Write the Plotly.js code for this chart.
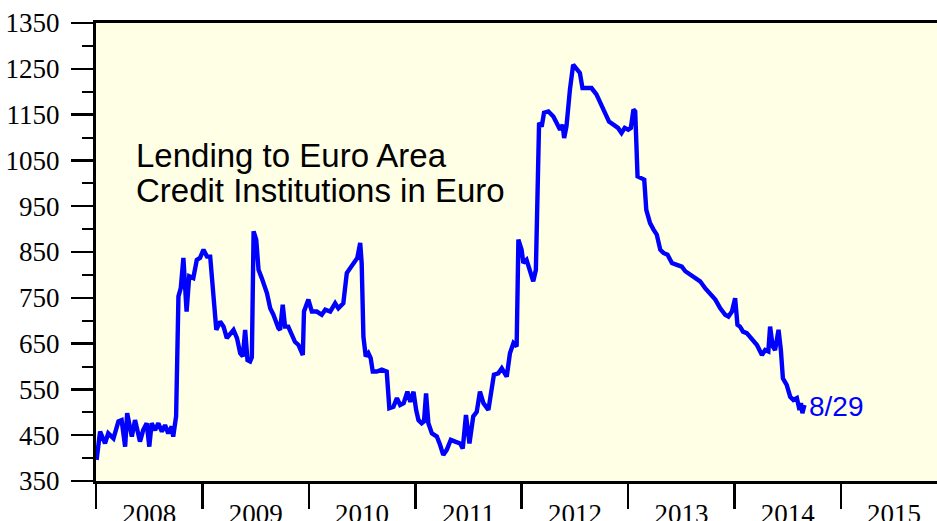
<!DOCTYPE html>
<html>
<head>
<meta charset="utf-8">
<script src="https://cdn.plot.ly/plotly-3.0.1.min.js"></script>
<style>
html,body{margin:0;padding:0;overflow:hidden;background:#fff;}
#chart{width:937px;height:521px;}
</style>
</head>
<body>
<div id="chart"></div>
<script>
const dates = [
'2008-01-03','2008-01-15','2008-02-01','2008-02-12','2008-03-01','2008-03-18','2008-03-29','2008-04-10','2008-04-17','2008-05-03',
'2008-05-14','2008-05-31','2008-06-11','2008-06-23','2008-07-02','2008-07-10','2008-07-22','2008-08-02','2008-08-14','2008-08-25',
'2008-09-05','2008-09-17','2008-09-22','2008-10-02','2008-10-10','2008-10-18','2008-10-27','2008-11-07','2008-11-16','2008-11-30',
'2008-12-12','2008-12-23','2009-01-04','2009-01-16','2009-01-27','2009-02-07','2009-02-17','2009-03-02','2009-03-14','2009-03-25',
'2009-04-06','2009-04-17','2009-04-29','2009-05-10','2009-05-19','2009-05-27','2009-06-04','2009-06-13','2009-06-19','2009-06-25',
'2009-07-04','2009-07-12','2009-07-23','2009-08-10','2009-08-21','2009-09-01','2009-09-18','2009-09-24','2009-10-03','2009-10-11',
'2009-10-22','2009-11-03','2009-11-14','2009-11-26','2009-12-07','2009-12-11','2009-12-15','2009-12-30','2010-01-11','2010-01-28',
'2010-02-14','2010-02-26','2010-03-15','2010-04-01','2010-04-12','2010-04-29','2010-05-11','2010-05-28','2010-06-09','2010-06-16',
'2010-06-26','2010-07-01','2010-07-07','2010-07-15','2010-07-24','2010-08-01','2010-08-08','2010-08-22','2010-09-08','2010-09-25',
'2010-10-04','2010-10-18','2010-10-30','2010-11-10','2010-11-22','2010-12-05','2010-12-15','2010-12-26','2011-01-04','2011-01-12',
'2011-01-23','2011-01-31','2011-02-07','2011-02-15','2011-02-27','2011-03-16','2011-03-27','2011-04-07','2011-04-19','2011-05-03',
'2011-05-18','2011-06-04','2011-06-13','2011-06-24','2011-07-06','2011-07-19','2011-07-31','2011-08-11','2011-08-23','2011-09-09',
'2011-09-28','2011-10-13','2011-10-25','2011-11-11','2011-11-22','2011-12-04','2011-12-15','2011-12-21','2012-01-01','2012-01-07',
'2012-01-18','2012-01-30','2012-02-10','2012-02-19','2012-03-01','2012-03-10','2012-03-18','2012-04-02','2012-04-19','2012-04-30',
'2012-05-12','2012-05-21','2012-05-26','2012-06-03','2012-06-09','2012-06-15','2012-06-26','2012-07-08','2012-07-19','2012-07-28',
'2012-08-11','2012-08-28','2012-09-14','2012-10-01','2012-10-16','2012-10-27','2012-11-10','2012-11-27','2012-12-09','2012-12-20',
'2013-01-01','2013-01-10','2013-01-19','2013-01-25','2013-02-02','2013-02-17','2013-02-25','2013-03-04','2013-03-17','2013-03-29',
'2013-04-09','2013-04-21','2013-05-02','2013-05-16','2013-05-31','2013-06-17','2013-07-04','2013-07-16','2013-08-02','2013-08-19',
'2013-09-05','2013-09-22','2013-10-09','2013-10-27','2013-11-13','2013-11-30','2013-12-11','2013-12-23','2014-01-03','2014-01-11',
'2014-01-20','2014-01-30','2014-02-12','2014-03-01','2014-03-19','2014-04-05','2014-04-16','2014-04-27','2014-05-03','2014-05-12',
'2014-05-20','2014-06-01','2014-06-09','2014-06-16','2014-06-29','2014-07-11','2014-07-22','2014-08-03','2014-08-12','2014-08-17',
'2014-08-22','2014-08-29'
];
const lending = [
396,458,432,454,443,480,483,425,498,447,
483,436,461,476,425,476,461,476,458,472,
454,469,447,491,753,771,837,720,797,793,
833,837,855,840,840,738,680,698,687,662,
673,680,662,629,622,680,614,611,620,895,
877,811,793,760,727,713,684,680,735,687,
687,669,654,647,629,625,720,746,720,720,
713,724,720,738,727,738,804,818,829,837,
870,826,665,622,629,618,589,589,593,589,
509,512,531,516,520,545,523,545,505,483,
476,480,541,476,454,447,429,407,418,440,
436,432,421,494,432,491,501,545,520,505,
582,585,596,578,629,651,644,877,855,826,
833,808,786,811,1132,1124,1154,1157,1146,1132,
1117,1128,1099,1124,1175,1205,1259,1248,1241,1208,
1208,1208,1194,1168,1150,1135,1128,1121,1110,1121,
1117,1121,1161,1157,1015,1012,1008,942,913,899,
888,855,848,844,826,822,818,808,800,793,
786,771,757,746,727,713,709,720,749,691,
687,676,673,662,647,625,636,633,687,644,
636,680,636,574,560,534,527,531,505,520,
498,516
];
const titleLines = ['Lending to Euro Area', 'Credit Institutions in Euro'];
const lastLabel = '8/29';
const yTicks = [350,450,550,650,750,850,950,1050,1150,1250,1350];

const serif = 'Liberation Serif, Times New Roman, serif';
const sans = 'Liberation Sans, Arial, Helvetica, sans-serif';

const trace = {
  type: 'scatter', mode: 'lines',
  x: dates, y: lending,
  line: {color: '#0000FF', width: 4.4},
  hoverinfo: 'skip'
};

const layout = {
  width: 937, height: 521,
  margin: {l: 96, r: 0, t: 23, b: 40},
  paper_bgcolor: '#FFFFFF',
  plot_bgcolor: '#FFFFE6',
  showlegend: false,
  xaxis: {
    type: 'date',
    range: ['2008-01-01', '2015-11-27'],
    tick0: '2008-01-01', dtick: 'M12', tickformat: '%Y',
    ticklabelmode: 'period',
    ticks: 'outside', ticklen: 25, tickwidth: 2.5, tickcolor: '#000',
    showline: true, linecolor: '#000', linewidth: 3, mirror: true,
    showgrid: false, zeroline: false,
    tickfont: {family: serif, size: 27, color: '#000'},
    ticklabelstandoff: -18
  },
  yaxis: {
    range: [350, 1350],
    tickmode: 'array', tickvals: yTicks, ticktext: yTicks.map(String),
    ticks: 'outside', ticklen: 22, tickwidth: 2.5, tickcolor: '#000',
    minor: {ticks: 'outside', ticklen: 11, tickwidth: 2, tickcolor: '#000', tickmode: 'linear', tick0: 350, dtick: 50},
    showline: true, linecolor: '#000', linewidth: 3,
    showgrid: false, zeroline: false,
    tickfont: {family: serif, size: 27, color: '#000'},
    ticklabelstandoff: 6
  },
  annotations: [
    {xref: 'paper', yref: 'paper', x: 0.045, y: 0.755, xanchor: 'left', yanchor: 'top',
     text: titleLines[0], showarrow: false, font: {family: sans, size: 33, color: '#000'}},
    {xref: 'paper', yref: 'paper', x: 0.045, y: 0.68, xanchor: 'left', yanchor: 'top',
     text: titleLines[1], showarrow: false, font: {family: sans, size: 33, color: '#000'}},
    {xref: 'x', yref: 'y', x: dates[dates.length - 1], y: lending[lending.length - 1],
     xanchor: 'left', yanchor: 'middle', xshift: 3, yshift: -2,
     text: lastLabel, showarrow: false, font: {family: sans, size: 28, color: '#0000FF'}}
  ]
};

Plotly.newPlot('chart', [trace], layout, {staticPlot: true, displayModeBar: false});
</script>
</body>
</html>
